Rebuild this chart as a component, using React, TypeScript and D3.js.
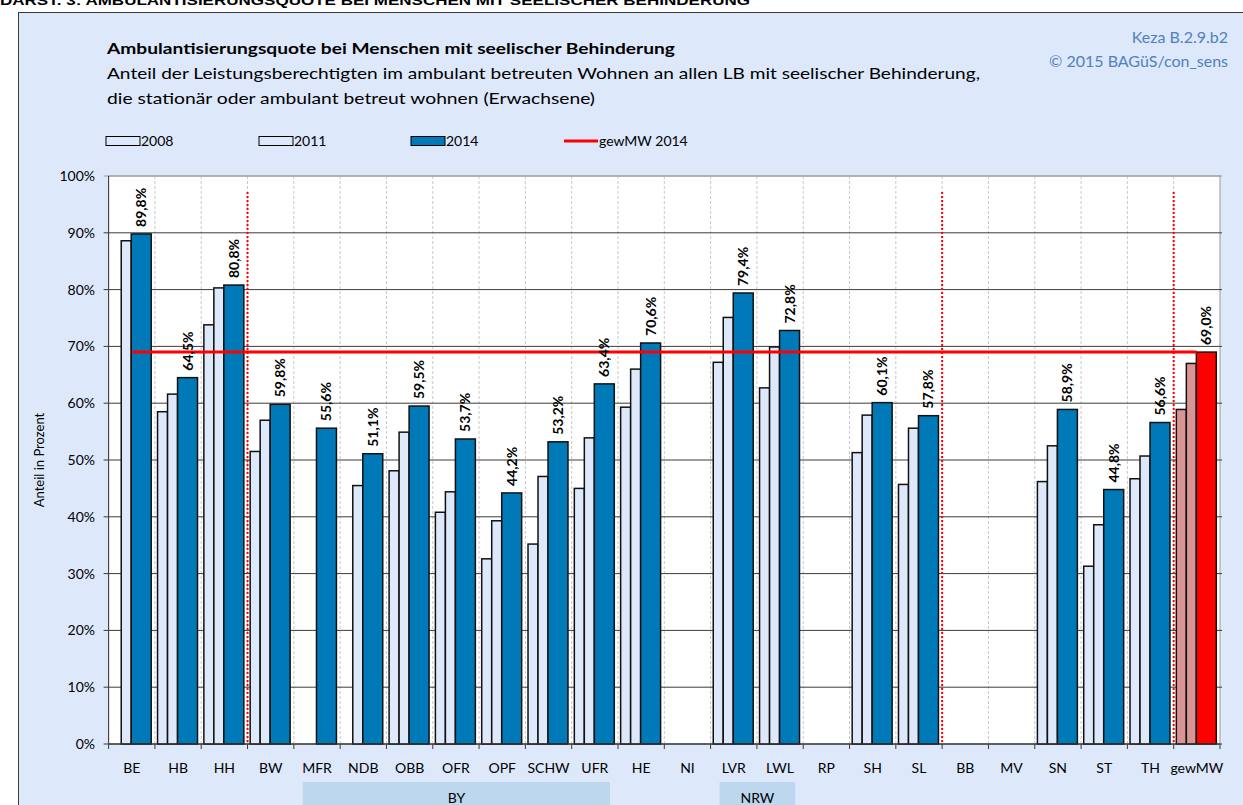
import React from "react";
import * as d3 from "d3";

const categories = ["BE","HB","HH","BW","MFR","NDB","OBB","OFR","OPF","SCHW","UFR","HE","NI","LVR","LWL","RP","SH","SL","BB","MV","SN","ST","TH","gewMW"];
const v2008: (number | null)[] = [null,58.5,73.8,51.5,null,null,48.1,40.8,32.6,35.2,45.0,59.3,null,67.2,62.7,null,51.3,45.7,null,null,46.2,31.3,46.7,58.9];
const v2011: (number | null)[] = [88.6,61.6,80.3,57.0,null,45.5,54.9,44.4,39.3,47.1,53.9,66.0,null,75.1,69.9,null,57.9,55.6,null,null,52.5,38.6,50.7,67.0];
const v2014: (number | null)[] = [89.8,64.5,80.8,59.8,55.6,51.1,59.5,53.7,44.2,53.2,63.4,70.6,null,79.4,72.8,null,60.1,57.8,null,null,58.9,44.8,56.6,69.0];
const meanValue = 69.0;
const yTicks = [0,10,20,30,40,50,60,70,80,90,100];
const separatorsBefore = ["BW","BB","gewMW"];
const groups = [
  { label: "BY", from: "MFR", to: "UFR" },
  { label: "NRW", from: "LVR", to: "LWL" },
];
const legendItems = [
  { label: "2008", kind: "light" },
  { label: "2011", kind: "light" },
  { label: "2014", kind: "blue" },
  { label: "gewMW 2014", kind: "line" },
];

const FONT = "Lato, 'Open Sans', sans-serif";
const BG = "#dde8fb";
const LIGHT = "#dde8fb";
const BLUE = "#0079b8";
const PINK = "#d99594";
const RED = "#ff0000";

export default function App() {
  const x = d3.scaleBand<string>().domain(categories).range([108.6, 1220]).padding(0);
  const y = d3.scaleLinear().domain([0, 100]).range([744, 176]);
  const bw = x.bandwidth();
  const fmt = (v: number) => v.toFixed(1).replace(".", ",") + "%";
  const slots = [
    { key: "2008", vals: v2008, a: 0.057, b: 0.273 },
    { key: "2011", vals: v2011, a: 0.273, b: 0.489 },
    { key: "2014", vals: v2014, a: 0.489, b: 0.92 },
  ];
  const x0 = 108.6, x1 = 1220;
  const legendX = [106, 259, 411, 564];

  return (
    <svg width={1243} height={805} style={{ position: "absolute", left: 0, top: 0, fontFamily: FONT }}>
      <rect x={0} y={0} width={1243} height={805} fill="#ffffff" />
      <text x={0} y={5} fontSize={13} fontWeight="bold" fontFamily="'Liberation Sans Narrow', 'Liberation Sans', sans-serif" textLength={750} lengthAdjust="spacingAndGlyphs">
        DARST. 3: AMBULANTISIERUNGSQUOTE BEI MENSCHEN MIT SEELISCHER BEHINDERUNG
      </text>
      <rect x={18.5} y={12.5} width={1240} height={800} fill={BG} stroke="#3a3a3a" strokeWidth={1} />

      {/* titles */}
      <text x={107} y={54} fontSize={16} fontWeight="bold" textLength={568} lengthAdjust="spacingAndGlyphs">Ambulantisierungsquote  bei Menschen mit seelischer Behinderung</text>
      <text x={107} y={79} fontSize={16} textLength={873} lengthAdjust="spacingAndGlyphs">Anteil der Leistungsberechtigten im ambulant betreuten Wohnen an allen LB mit seelischer Behinderung,</text>
      <text x={107} y={104} fontSize={16} textLength={488} lengthAdjust="spacingAndGlyphs">die stationär oder ambulant betreut wohnen (Erwachsene)</text>
      <text x={1228} y={43} fontSize={16} fill="#4f81bd" textAnchor="end">Keza B.2.9.b2</text>
      <text x={1228} y={67} fontSize={16} fill="#4f81bd" textAnchor="end">© 2015 BAGüS/con_sens</text>

      {/* legend */}
      {legendItems.map((it, i) => (
        <g key={it.label}>
          {it.kind === "line" ? (
            <line x1={legendX[i]} x2={legendX[i] + 34} y1={141} y2={141} stroke={RED} strokeWidth={3} />
          ) : (
            <rect x={legendX[i]} y={136.5} width={34} height={9} fill={it.kind === "blue" ? BLUE : LIGHT} stroke="#000" strokeWidth={1} />
          )}
          <text x={legendX[i] + 35} y={146} fontSize={14}>{it.label}</text>
        </g>
      ))}

      {/* plot area */}
      <rect x={x0} y={176} width={x1 - x0} height={744 - 176} fill="#ffffff" stroke="#9a9a9a" strokeWidth={1} />
      {categories.slice(1).map((c) => (
        <line key={"vg" + c} x1={x(c)!} x2={x(c)!} y1={176} y2={744} stroke="#c8c8c8" strokeWidth={1} strokeDasharray="3,2" />
      ))}
      {yTicks.map((t) => (
        <g key={"yt" + t}>
          <line x1={x0 - 5} x2={x1 + 2} y1={y(t)} y2={y(t)} stroke={t === 100 ? "#9a9a9a" : "#3c3c3c"} strokeWidth={1} />
          <text x={95} y={y(t) + 5} fontSize={14} textAnchor="end">{t}%</text>
        </g>
      ))}

      {/* bars */}
      {slots.map((s) =>
        categories.map((c, i) => {
          const v = s.vals[i];
          if (v == null) return null;
          const isMean = c === "gewMW";
          const fill = isMean ? (s.key === "2014" ? RED : PINK) : s.key === "2014" ? BLUE : LIGHT;
          const bx = x(c)! + s.a * bw;
          const w = (s.b - s.a) * bw;
          return (
            <rect key={s.key + c} x={bx} y={y(v)} width={w} height={y(0) - y(v)} fill={fill} stroke="#111" strokeWidth={1.5} />
          );
        })
      )}

      {/* separators */}
      {separatorsBefore.map((c) => (
        <line key={"sep" + c} x1={x(c)!} x2={x(c)!} y1={192} y2={744} stroke={RED} strokeWidth={2} strokeDasharray="2,2" />
      ))}

      {/* mean line */}
      <line x1={x("BE")! + bw / 2} x2={x("gewMW")! + bw / 2} y1={y(meanValue)} y2={y(meanValue)} stroke={RED} strokeWidth={3} />

      {/* value labels */}
      {categories.map((c, i) => {
        const v = v2014[i];
        if (v == null) return null;
        const cx = x(c)! + ((slots[2].a + slots[2].b) / 2) * bw;
        const ty = y(v) - 7;
        return (
          <text key={"lb" + c} transform={`translate(${cx + 5},${ty}) rotate(-90)`} fontSize={14} fontWeight="bold">
            {fmt(v)}
          </text>
        );
      })}

      {/* x axis */}
      <line x1={x0} x2={x1} y1={744} y2={744} stroke="#3c3c3c" strokeWidth={1} />
      <line x1={x0} x2={x0} y1={176} y2={744} stroke="#3c3c3c" strokeWidth={1} />
      {categories.concat(["__end"]).map((c, i) => {
        const px = i < categories.length ? x(c)! : x1;
        return <line key={"xt" + i} x1={px} x2={px} y1={744} y2={749} stroke="#3c3c3c" strokeWidth={1} />;
      })}
      {categories.map((c) => (
        <text key={"xl" + c} x={x(c)! + bw / 2} y={773} fontSize={14} textAnchor="middle">{c}</text>
      ))}

      {/* groups */}
      {groups.map((g) => {
        const gx0 = x(g.from)! + 9;
        const gx1 = x(g.to)! + bw - 8;
        return (
          <g key={g.label}>
            <rect x={gx0} y={782} width={gx1 - gx0} height={30} fill="#bdd7ee" />
            <text x={(gx0 + gx1) / 2} y={803} fontSize={14} textAnchor="middle">{g.label}</text>
          </g>
        );
      })}

      {/* y title */}
      <text transform="translate(44,460) rotate(-90)" fontSize={13} textAnchor="middle">Anteil in Prozent</text>
    </svg>
  );
}
